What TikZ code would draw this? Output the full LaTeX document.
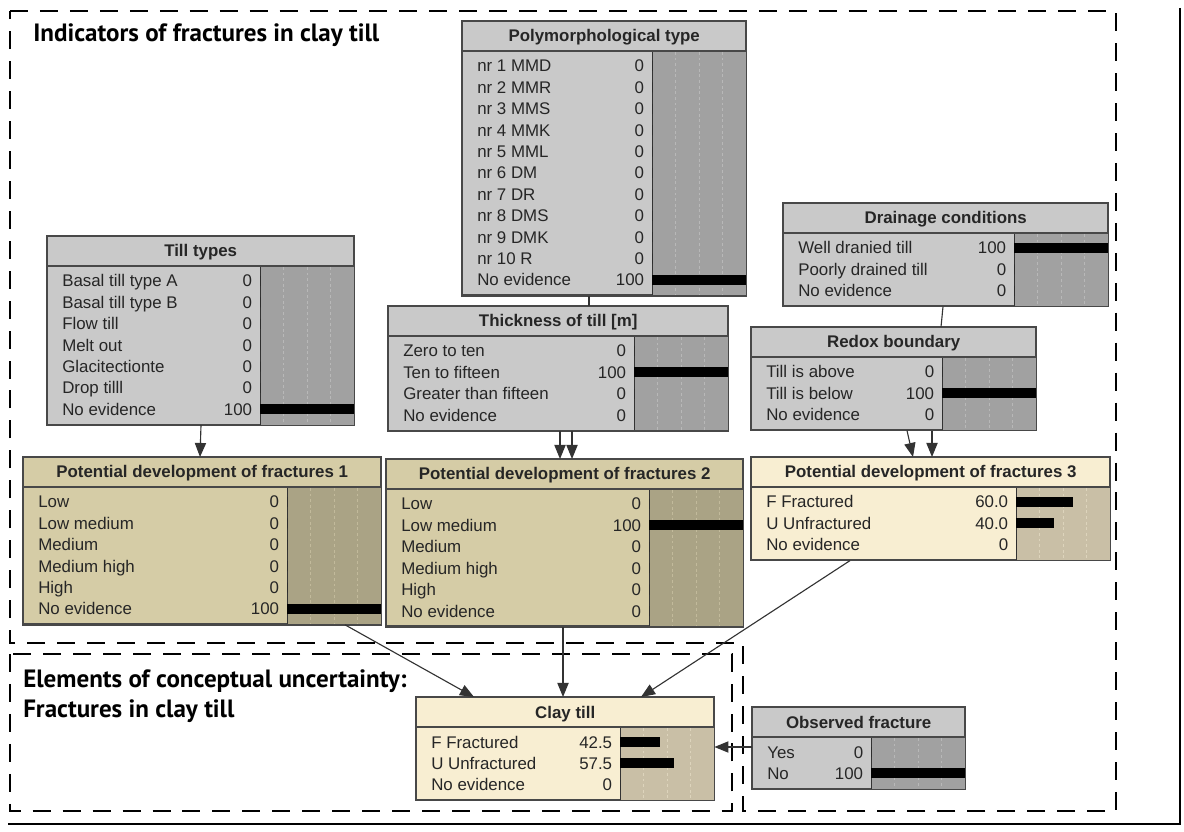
\documentclass[tikz,border=0pt]{standalone}
\usepackage{fontspec}
\setmainfont{Liberation Sans}
\newfontfamily\grpfont{PT Sans}
\usetikzlibrary{arrows.meta,calc}
\definecolor{edgec}{HTML}{484848}
\definecolor{greyfill}{HTML}{C9C9C9}
\definecolor{greybarc}{HTML}{A1A1A1}
\definecolor{greygridc}{HTML}{B8B8B8}
\definecolor{tanfill}{HTML}{D5CCA6}
\definecolor{tanbarc}{HTML}{AAA385}
\definecolor{tangridc}{HTML}{C2BA9B}
\definecolor{creamfill}{HTML}{F8EED2}
\definecolor{creambarc}{HTML}{C9BFA6}
\definecolor{creamgridc}{HTML}{DDD4BC}
\tikzset{
  greybox/.style={rectangle,draw=edgec,fill=greyfill,line width=1pt,inner sep=0pt},
  tanbox/.style={rectangle,draw=edgec,fill=tanfill,line width=1pt,inner sep=0pt},
  creambox/.style={rectangle,draw=edgec,fill=creamfill,line width=1pt,inner sep=0pt},
  greybar/.style={fill=greybarc,draw=black!80,line width=1pt},
  tanbar/.style={fill=tanbarc,draw=black!80,line width=1pt},
  creambar/.style={fill=creambarc,draw=black!80,line width=1pt},
  greygrid/.style={greygridc,line width=.6pt,dash pattern=on 2pt off 2pt},
  tangrid/.style={tangridc,line width=.6pt,dash pattern=on 2pt off 2pt},
  creamgrid/.style={creamgridc,line width=.6pt,dash pattern=on 2pt off 2pt},
  sep/.style={line width=1.4pt,edgec},
  hdr/.style={font=\fontsize{12}{14}\selectfont\bfseries,inner sep=0pt,text=black!85},
  lab/.style={font=\fontsize{12}{14}\selectfont,inner sep=0pt,text=black!85},
  grp/.style={font=\grpfont\fontsize{17.8}{21}\selectfont\bfseries,inner sep=0pt},
  grpline/.style={line width=2.1pt,dash pattern=on 12.8pt off 8.5pt},
  lnk/.style={line width=.8pt,black!80},
  arr/.style={line width=.8pt,black!80,-{Triangle[length=10pt,width=8pt]}}
}
% name, palette, x, y, width, rows, title, states
\newcommand{\bnnode}[8]{%
  \node[#2box,anchor=north west,minimum width=#5*0.025cm,minimum height={(38+#6*21.4)*0.025cm}] (#1) at (#3,#4) {};
  \draw[#2bar] ($(#1.north east)+(-94,30)$) rectangle (#1.south east);
  \foreach \q in {23.5,47,70.5}
    \draw[#2grid] ($(#1.north east)+({-94+\q},31)$) -- ($(#1.south east)+({-94+\q},-1)$);
  \draw[sep] ($(#1.north west)+(0,30)$) -- ($(#1.north east)+(0,30)$);
  \node[hdr,anchor=base] at ($(#1.north)+(0,21)$) {#7};
  \foreach \lbl/\val/\pct [count=\i] in {#8} {
    \node[lab,anchor=base west] at ($(#1.north west)+(15,{29.6+\i*21.4})$) {\lbl};
    \node[lab,anchor=base east] at ($(#1.north east)+(-102,{29.6+\i*21.4})$) {\val};
    \fill ($(#1.north east)+(-94,{18.6+\i*21.4})$) rectangle +({0.94*\pct},10);
  }
  \draw[edgec,line width=1pt] (#1.north west) rectangle (#1.south east);
}

\begin{document}
\begin{tikzpicture}[x=0.025cm,y=-0.025cm]
  \useasboundingbox (0,0) rectangle (1184,832);
  % frame and groups
  \draw[line width=1pt] (1180,8) -- (1180,824) -- (8,824);
  \draw[grpline] (10,11) -- (1116,11) -- (1116,811) -- (743,811) -- (743,643) -- (10,643) -- cycle;
  \draw[grpline] (10,654) rectangle (732,811);
  \node[grp,anchor=base west] (ttl1) at (33,42) {Indicators of fractures in clay till};
  \node[grp,anchor=base west] (ttl2) at (23,687) {Elements of conceptual uncertainty:};
  \node[grp,anchor=base west] (ttl3) at (23,717) {Fractures in clay till};

  \bnnode{till}{grey}{47}{236}{306}{7}{Till types}
    {Basal till type A/0/0,Basal till type B/0/0,Flow till/0/0,Melt out/0/0,Glacitectionte/0/0,Drop tilll/0/0,No evidence/100/100}
  \bnnode{poly}{grey}{462}{21}{283}{11}{Polymorphological type}
    {nr 1 MMD/0/0,nr 2 MMR/0/0,nr 3 MMS/0/0,nr 4 MMK/0/0,nr 5 MML/0/0,nr 6 DM/0/0,nr 7 DR/0/0,nr 8 DMS/0/0,nr 9 DMK/0/0,nr 10 R/0/0,No evidence/100/100}
  \bnnode{thick}{grey}{388}{306}{339}{4}{Thickness of till [m]}
    {Zero to ten/0/0,Ten to fifteen/100/100,Greater than fifteen/0/0,No evidence/0/0}
  \bnnode{drain}{grey}{783}{203}{324}{3}{Drainage conditions}
    {Well dranied till/100/100,Poorly drained till/0/0,No evidence/0/0}
  \bnnode{redox}{grey}{751}{327}{284}{3}{Redox boundary}
    {Till is above/0/0,Till is below/100/100,No evidence/0/0}
  \bnnode{frac1}{tan}{23}{457}{357}{6}{Potential development of fractures 1}
    {Low/0/0,Low medium/0/0,Medium/0/0,Medium high/0/0,High/0/0,No evidence/100/100}
  \bnnode{frac2}{tan}{386}{459}{356}{6}{Potential development of fractures 2}
    {Low/0/0,Low medium/100/100,Medium/0/0,Medium high/0/0,High/0/0,No evidence/0/0}
  \bnnode{frac3}{cream}{751}{457}{358}{3}{Potential development of fractures 3}
    {F Fractured/60.0/60,U Unfractured/40.0/40,No evidence/0/0}
  \bnnode{clay}{cream}{416}{697}{297}{3}{Clay till}
    {F Fractured/42.5/42.5,U Unfractured/57.5/57.5,No evidence/0/0}
  \bnnode{obs}{grey}{752}{707}{212}{2}{Observed fracture}
    {Yes/0/0,No/100/100}

  % links
  \draw[lnk] (poly.south -| 589,0) -- (thick.north -| 589,0);
  \draw[lnk] (drain.south -| 943,0) -- (redox.north -| 941,0);
  \draw[arr] (till.south -| 201,0) -- (frac1.north -| 200,0);
  \draw[arr] (thick.south -| 560,0) -- (frac2.north -| 560,0);
  \draw[arr] (thick.south -| 572,0) -- (frac2.north -| 572,0);
  \draw[arr] (redox.south -| 907,0) -- (frac3.north -| 913,0);
  \draw[arr] (redox.south -| 932,0) -- (frac3.north -| 932,0);
  \draw[arr] (frac1.south -| 345,0) -- (clay.north -| 474,0);
  \draw[arr] (frac2.south -| 563,0) -- (clay.north -| 563,0);
  \draw[arr] (frac3.south -| 850,0) -- (clay.north -| 641,0);
  \draw[arr] (obs.west |- 0,747) -- (clay.east |- 0,747);
\end{tikzpicture}
\end{document}
